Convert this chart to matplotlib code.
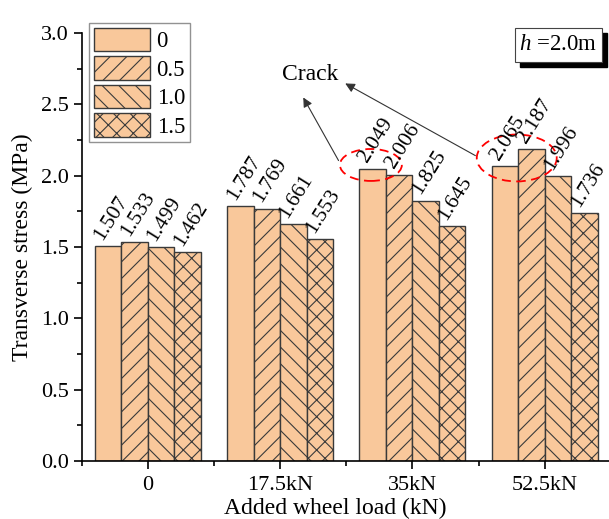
import matplotlib
matplotlib.use("Agg")
import matplotlib.pyplot as plt
from matplotlib.patches import Ellipse, Rectangle
import numpy as np

plt.rcParams['font.family'] = ['Liberation Serif', 'DejaVu Serif']
plt.rcParams['mathtext.fontset'] = 'custom'
plt.rcParams['mathtext.rm'] = 'Liberation Serif'
plt.rcParams['mathtext.it'] = 'Liberation Serif:italic'
plt.rcParams['hatch.linewidth'] = 0.8

categories = ['0', '17.5kN', '35kN', '52.5kN']
series_names = ['0', '0.5', '1.0', '1.5']
values = {
    '0':   [1.507, 1.787, 2.049, 2.065],
    '0.5': [1.533, 1.769, 2.006, 2.187],
    '1.0': [1.499, 1.661, 1.825, 1.996],
    '1.5': [1.462, 1.553, 1.645, 1.736],
}
hatches = ['', '//', '\\\\', 'xx']
fill = '#F9C89B'
edge = '#3a3a3a'

fig = plt.figure(figsize=(6.09, 5.19), dpi=100)
ax = fig.add_axes([81.5/609, 58/519, (611-81.5)/609, (461-33)/519])

x = np.arange(len(categories))
w = 0.2
for i, name in enumerate(series_names):
    xs = x + (i - 1.5) * w
    ax.bar(xs, values[name], width=w, color=fill, edgecolor=edge,
           linewidth=1.0, hatch=hatches[i], label=name)
    for xi, v in zip(xs, values[name]):
        ax.annotate(f'{v:.3f}', (xi, v), xytext=(-1, 2),
                    textcoords='offset points', rotation=58,
                    rotation_mode='anchor', ha='left', va='bottom',
                    fontsize=15.5)

ax.set_xlim(-0.5, 3.5)
ax.set_ylim(0, 3.0)
ax.set_xticks(x)
ax.set_xticklabels(categories)
ax.set_xticks(np.arange(-0.5, 3.6, 1.0), minor=True)
ax.set_yticks(np.arange(0, 3.01, 0.5))
ax.set_yticklabels([f'{t:.1f}' for t in np.arange(0, 3.01, 0.5)])
ax.set_yticks(np.arange(0, 3.01, 0.25), minor=True)
ax.tick_params(axis='both', which='major', direction='out', length=6,
               width=1.2, labelsize=16, pad=3)
ax.tick_params(axis='both', which='minor', direction='out', length=3.5,
               width=1.2)
ax.tick_params(axis='x', which='major', pad=5)
for s in ['top', 'right']:
    ax.spines[s].set_visible(False)
for s in ['left', 'bottom']:
    ax.spines[s].set_linewidth(1.2)

ax.set_xlabel('Added wheel load (kN)', fontsize=17)
ax.set_ylabel('Transverse stress (MPa)', fontsize=17)
ax.xaxis.set_label_coords(0.48, -0.112)
ax.yaxis.set_label_coords(-0.112, 0.5)
ax.xaxis.label.set_va('center')
ax.yaxis.label.set_va('center')

leg = ax.legend(loc='upper left', bbox_to_anchor=(89/609, 1 - 23/519),
                bbox_transform=fig.transFigure, borderaxespad=0,
                fontsize=16.5, handlelength=2.45, handleheight=1.2,
                labelspacing=0.18, borderpad=0.2, handletextpad=0.3,
                fancybox=False, frameon=True)
leg.get_frame().set_edgecolor('#777777')
leg.get_frame().set_linewidth(1.0)

# Crack annotations
ax.add_patch(Ellipse((1.686, 2.075), 0.468, 0.224, fill=False,
                     edgecolor='red', linestyle=(0, (5, 3)), linewidth=1.3))
ax.add_patch(Ellipse((2.788, 2.124), 0.604, 0.329, fill=False,
                     edgecolor='red', linestyle=(0, (5, 3)), linewidth=1.3))
ax.annotate('', xy=(1.165, 2.565), xytext=(1.452, 2.089),
            arrowprops=dict(arrowstyle='-|>', color='#333333', lw=0.8,
                            mutation_scale=14))
ax.annotate('', xy=(1.474, 2.656), xytext=(2.494, 2.131),
            arrowprops=dict(arrowstyle='-|>', color='#333333', lw=0.8,
                            mutation_scale=14))
ax.text(1.228, 2.706, 'Crack', fontsize=17, ha='center', va='center')

# h = 2.0m box with shadow
fw, fh = 609, 519
bx0, bx1, by0, by1 = 515, 602, 28, 62
fig.patches.append(Rectangle(((bx0 + 5)/fw, 1 - (by1 + 5)/fh),
                             (bx1 - bx0)/fw, (by1 - by0)/fh,
                             transform=fig.transFigure, facecolor='black',
                             edgecolor='black', zorder=5))
fig.patches.append(Rectangle((bx0/fw, 1 - by1/fh), (bx1 - bx0)/fw,
                             (by1 - by0)/fh, transform=fig.transFigure,
                             facecolor='white', edgecolor='#444444',
                             linewidth=0.8, zorder=6))
fig.text((bx0 + bx1)/2/fw, 1 - (by0 + by1)/2/fh, r'$h$ =2.0m',
         fontsize=16.5, ha='center', va='center', zorder=7)

fig.savefig('out.png', dpi=100)
